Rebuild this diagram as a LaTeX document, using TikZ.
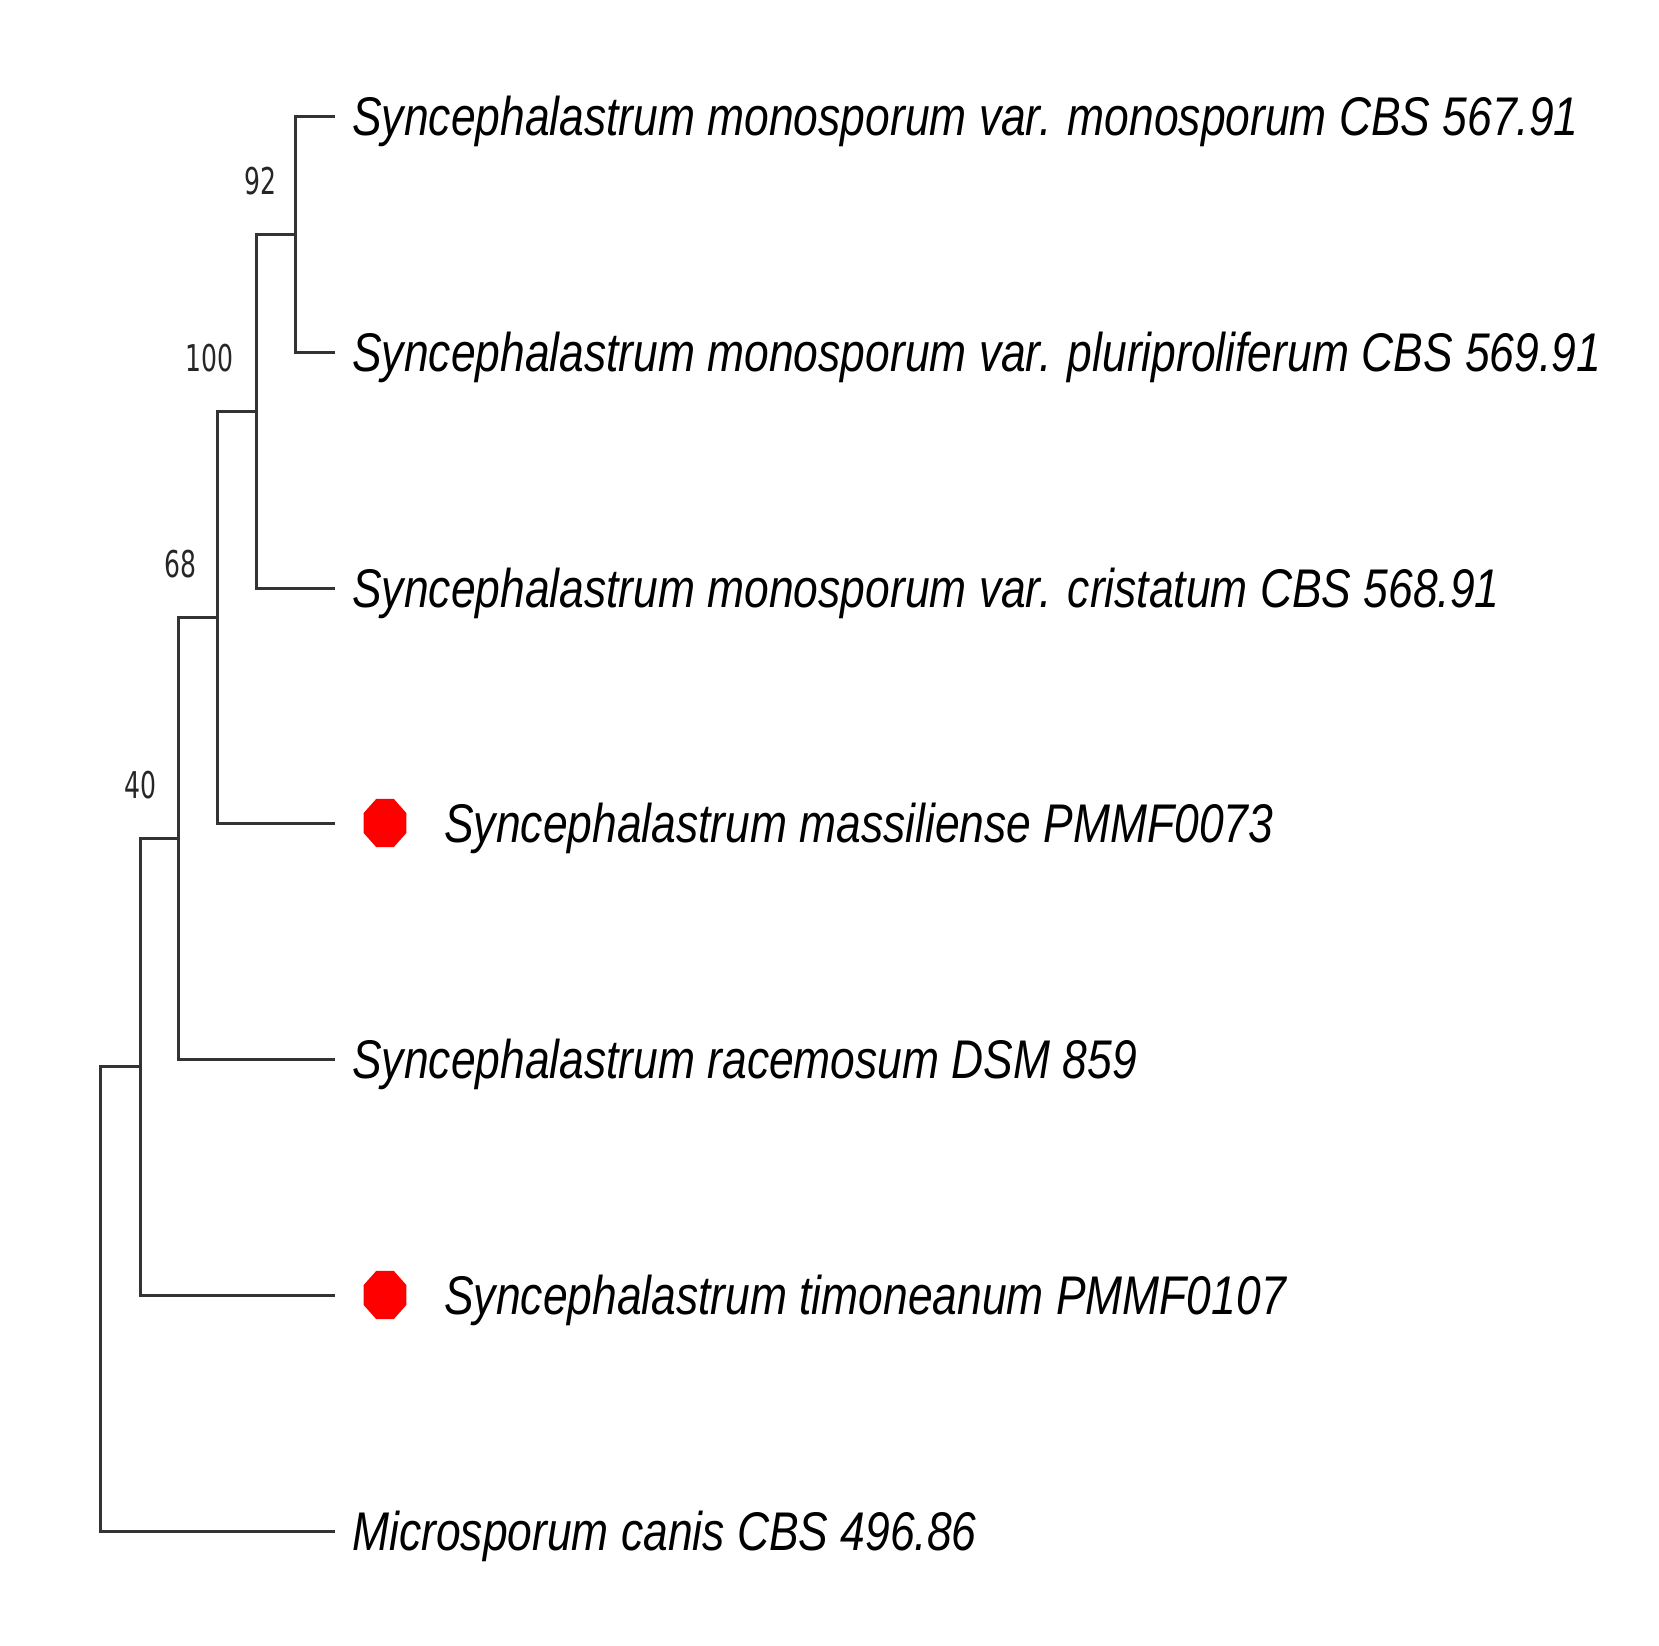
\documentclass[tikz,border=0pt]{standalone}
\usepackage{fontspec}
\usetikzlibrary{shapes.geometric}
\newfontfamily\taxonfont[FakeStretch=0.815]{Liberation Sans}
\newfontfamily\bootfont[FakeStretch=0.68]{DejaVu Sans}
\tikzset{
	branch/.style={line width=0.6mm,black!80,line cap=rect},
	taxon/.style={anchor=base west,inner sep=0pt,text=black,font=\taxonfont\itshape\fontsize{31}{36}\selectfont},
	boot/.style={anchor=east,inner sep=0pt,text=black!85,font=\bootfont\fontsize{21}{25}\selectfont},
	marker/.style={regular polygon,regular polygon sides=8,fill=red,draw=none,inner sep=0pt,minimum size=10.4mm,xscale=0.89,transform shape},
}
\begin{document}
\begin{tikzpicture}[x=0.2mm,y=-0.2mm]
	\useasboundingbox (0,0) rectangle (1659,1646);
	% tips
	\coordinate (t1) at (333,116);
	\coordinate (t2) at (333,352);
	\coordinate (t3) at (333,588);
	\coordinate (t4) at (333,823);
	\coordinate (t5) at (333,1059);
	\coordinate (t6) at (333,1295);
	\coordinate (t7) at (333,1531);
	% inner nodes
	\coordinate (n92) at (295,234);
	\coordinate (n100) at (256,411);
	\coordinate (n68) at (217,617);
	\coordinate (n40) at (178,838);
	\coordinate (n6) at (140,1066.5);
	\coordinate (root) at (100,1299);
	\draw[branch] (t1) -| (n92) |- (t2);
	\draw[branch] (n92) -| (n100) |- (t3);
	\draw[branch] (n100) -| (n68) |- (t4);
	\draw[branch] (n68) -| (n40) |- (t5);
	\draw[branch] (n40) -| (n6) |- (t6);
	\draw[branch] (n6) -| (root) |- (t7);
	% bootstrap
	\node[boot] (b92) at (277,181) {92};
	\node[boot] (b100) at (234,358) {100};
	\node[boot] (b68) at (197,564) {68};
	\node[boot] (b40) at (157,785) {40};
	% markers
	\node[marker] (m4) at (385,823) {};
	\node[marker] (m6) at (385,1295) {};
	% taxa
	\node[taxon] (s1) at (352,135) {Syncephalastrum monosporum var. monosporum CBS 567.91};
	\node[taxon] (s2) at (352,371) {Syncephalastrum monosporum var. pluriproliferum CBS 569.91};
	\node[taxon] (s3) at (352,607) {Syncephalastrum monosporum var. cristatum CBS 568.91};
	\node[taxon] (s4) at (444,842) {Syncephalastrum massiliense PMMF0073};
	\node[taxon] (s5) at (352,1078) {Syncephalastrum racemosum DSM 859};
	\node[taxon] (s6) at (444,1314) {Syncephalastrum timoneanum PMMF0107};
	\node[taxon] (s7) at (352,1550) {Microsporum canis CBS 496.86};
\end{tikzpicture}
\end{document}
